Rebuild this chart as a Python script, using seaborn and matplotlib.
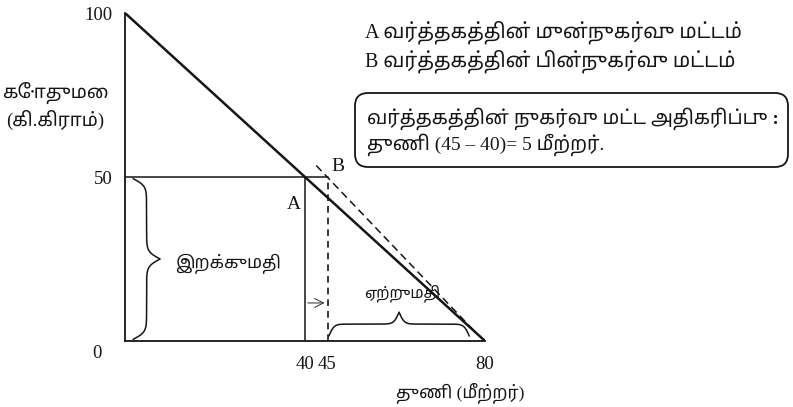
import numpy as np
import matplotlib
matplotlib.use("Agg")
import matplotlib.pyplot as plt
import seaborn as sns
from matplotlib.patches import FancyBboxPatch

# budget line and trade points (cloth in metres, wheat in kg)
budget_x = [0, 80]
budget_y = [100, 0]
point_a = (40, 50)
point_b = (45, 50)
after_x = [42.5, 78]
after_y = [53.5, 2.5]
x_ticks = [40, 45, 80]
y_ticks = [50, 100]

label_a = "A வர்த்தகத்தின் முன்நுகர்வு மட்டம்"
label_b = "B வர்த்தகத்தின் பின்நுகர்வு மட்டம்"
box_plain = "வர்த்தகத்தின் "
box_bold = "நுகர்வு மட்ட அதிகரிப்பு :"
box_line2 = "துணி (45 – 40)= 5 மீற்றர்."
import_label = "இறக்குமதி"
export_label = "ஏற்றுமதி"
y_label = ["கோதுமை", "(கி.கிராம்)"]
x_label = "துணி (மீற்றர்)"

sns.set_theme(style="white")
fonts = ["Liberation Serif", "Noto Sans Tamil", "DejaVu Sans"]
plt.rcParams["font.family"] = fonts
ink = "#151515"

W, H = 793, 407
fig = plt.figure(figsize=(W / 100, H / 100), dpi=100)
ax = fig.add_axes([125 / W, 66 / H, 360 / W, 328 / H])
ax.set_xlim(0, 80)
ax.set_ylim(0, 100)
for side in ["top", "right"]:
    ax.spines[side].set_visible(False)
for side in ["left", "bottom"]:
    ax.spines[side].set_color(ink)
    ax.spines[side].set_linewidth(1.3)

sns.lineplot(x=budget_x, y=budget_y, ax=ax, color=ink, lw=1.8, estimator=None)
ax.plot([0, point_b[0]], [point_a[1], point_b[1]], color=ink, lw=1.1)
ax.plot([point_a[0], point_a[0]], [0, point_a[1]], color=ink, lw=1.1)
ax.plot([point_b[0], point_b[0]], [0, point_b[1]], color=ink, lw=1.2, ls=(0, (4, 3)))
ax.plot(after_x, after_y, color=ink, lw=1.1, ls=(0, (5, 3)))

ax.set_xticks(x_ticks)
ax.set_yticks(y_ticks)
ax.tick_params(axis="x", length=0, pad=11, labelsize=13.5, colors=ink)
ax.tick_params(axis="y", length=0, pad=9, labelsize=13.5, colors=ink)
ax.annotate("0", xy=(0, 0), xytext=(-28, -12), textcoords="offset pixels",
            ha="center", va="center", fontsize=13.5, color=ink)

ax.text(point_a[0] - 2.4, point_a[1] - 8.5, "A", ha="center", va="center", fontsize=14, color=ink)
ax.text(point_b[0] + 0.8, point_b[1] + 0.5, "B", ha="left", va="bottom", fontsize=14, color=ink)


def brace(x0, x1, base, height, beta, vertical=False):
    t = np.linspace(0, 0.5, 200)
    half = 1 / (1 + np.exp(-beta * t)) + 1 / (1 + np.exp(-beta * (t - 0.5))) - 0.5
    prof = np.concatenate([half, half[-2::-1]])
    along = np.linspace(x0, x1, prof.size)
    across = base + height * prof
    if vertical:
        ax.plot(across, along, color=ink, lw=1.1, clip_on=False)
    else:
        ax.plot(along, across, color=ink, lw=1.1, clip_on=False)


# import brace on the wheat axis, export brace on the cloth axis
brace(0.5, point_a[1] - 0.5, 1.8, 6.0, 45, vertical=True)
ax.text(23, 23.5, import_label, ha="center", va="center", fontsize=12.5, color=ink)
brace(point_b[0] + 0.3, 76.5, 1.5, 7.3, 55)
ax.text(61.5, 14.6, export_label, ha="center", va="center", fontsize=11, color=ink)

ax.annotate("", xy=(point_b[0], 11.6), xytext=(point_a[0], 11.6),
            arrowprops=dict(arrowstyle="->", color="#444444", lw=0.8, mutation_scale=16))

fig.text(365 / W, 1 - 32 / H, label_a, ha="left", va="center", fontsize=14.5, color=ink)
fig.text(365 / W, 1 - 61 / H, label_b, ha="left", va="center", fontsize=14.5, color=ink)

box = FancyBboxPatch((3.55, 4.07 - 1.67), 4.33, 0.74, boxstyle="round,pad=0,rounding_size=0.13",
                     transform=fig.dpi_scale_trans, fc="none", ec=ink, lw=1.3)
fig.add_artist(box)
t1 = fig.text(367 / W, 1 - 119 / H, box_plain, ha="left", va="center", fontsize=14, color=ink)
ax.annotate(box_bold, xy=(1, 0), xycoords=t1, ha="left", va="bottom",
            fontsize=14, fontweight="bold", color=ink)
fig.text(367 / W, 1 - 145 / H, box_line2, ha="left", va="center", fontsize=14, color=ink)

fig.text(55 / W, 1 - 93 / H, y_label[0], ha="center", va="center", fontsize=13.5, color=ink)
fig.text(55 / W, 1 - 120 / H, y_label[1], ha="center", va="center", fontsize=13.5, color=ink)
fig.text(460 / W, 1 - 393 / H, x_label, ha="center", va="center", fontsize=12.5, color=ink)

fig.savefig("out.png", dpi=100)
